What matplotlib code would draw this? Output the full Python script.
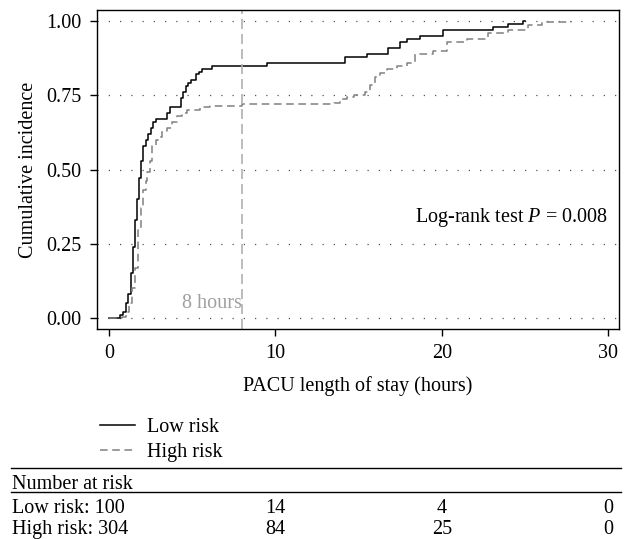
import matplotlib
matplotlib.use('Agg')
import matplotlib.pyplot as plt
from matplotlib.lines import Line2D
from matplotlib.transforms import blended_transform_factory

plt.rcParams['font.family'] = ['Liberation Serif', 'DejaVu Serif']
plt.rcParams['mathtext.fontset'] = 'custom'
plt.rcParams['mathtext.it'] = 'Liberation Serif:italic'
plt.rcParams['mathtext.rm'] = 'Liberation Serif'

# Step curves (hours, cumulative incidence)
low_x = [0, 0.66, 0.85, 1.0, 1.15, 1.3, 1.45, 1.55, 1.67, 1.8, 1.93, 2.05, 2.2, 2.35,
         2.5, 2.65, 2.8, 3.5, 3.67, 4.3, 4.45, 4.6, 4.75, 4.9, 5.2, 5.4, 5.6, 6.2,
         9.5, 14.2, 15.5, 16.75, 17.5, 17.9, 18.7, 20.05, 23.1, 24.0, 24.9, 25.0]
low_y = [0, 0.01, 0.02, 0.05, 0.08, 0.15, 0.24, 0.33, 0.40, 0.47, 0.53, 0.58, 0.60, 0.62,
         0.64, 0.66, 0.67, 0.69, 0.71, 0.74, 0.76, 0.78, 0.79, 0.80, 0.82, 0.83, 0.84, 0.85,
         0.86, 0.88, 0.89, 0.91, 0.93, 0.94, 0.95, 0.97, 0.98, 0.99, 1.00, 1.00]

high_x = [0, 0.8, 1.0, 1.2, 1.4, 1.57, 1.75, 1.9, 2.05, 2.2, 2.3, 2.45, 2.6, 2.8, 2.95,
          3.2, 3.5, 3.8, 4.1, 4.4, 4.7, 5.5, 6.1, 8.0, 13.5, 13.9, 14.3, 14.7, 15.4, 15.7,
          16.0, 16.3, 16.7, 17.3, 17.9, 18.4, 19.5, 20.3, 21.5, 22.8, 24.0, 25.2, 26.0, 27.8]
high_y = [0, 0.005, 0.02, 0.05, 0.10, 0.17, 0.30, 0.37, 0.43, 0.46, 0.49, 0.53, 0.58, 0.60,
          0.61, 0.63, 0.64, 0.66, 0.68, 0.69, 0.70, 0.71, 0.715, 0.72, 0.724, 0.737, 0.745,
          0.75, 0.76, 0.785, 0.81, 0.825, 0.84, 0.85, 0.86, 0.89, 0.90, 0.93, 0.94, 0.96,
          0.97, 0.985, 0.997, 1.0]

cutoff_hours = 8
p_value = 0.008

# Number at risk table
risk_times = [0, 10, 20, 30]
risk_low = [100, 14, 4, 0]
risk_high = [304, 84, 25, 0]

fs = 14.5

fig = plt.figure(figsize=(6.28, 5.39), dpi=100)
ax = fig.add_axes([0.1545, 0.3896, 0.8312, 0.5918])

ax.plot(low_x, low_y, drawstyle='steps-post', color='black', lw=1.1, label='Low risk')
ax.plot(high_x, high_y, drawstyle='steps-post', color='#808080', lw=1.1,
        linestyle=(0, (5, 3)), label='High risk')

ax.axvline(cutoff_hours, color='#b0b0b0', lw=1.2, linestyle=(0, (6, 3)))
ax.text(cutoff_hours - 0.02, 0.05, '8 hours', color='#a0a0a0', fontsize=fs,
        ha='right', va='center')
ax.text(30, 0.34, r'Log-rank test $P$ = ' + f'{p_value:.3f}', fontsize=fs,
        ha='right', va='center')

ax.set_xlim(-0.72, 30.66)
ax.set_ylim(-0.037, 1.037)
ax.set_xticks([0, 10, 20, 30])
ax.set_yticks([0, 0.25, 0.5, 0.75, 1.0])
ax.set_yticklabels(['0.00', '0.25', '0.50', '0.75', '1.00'])
ax.yaxis.grid(True, color='#555555', linestyle=(0, (1, 8)), lw=0.9)
ax.tick_params(labelsize=fs, length=5, width=1, direction='out', pad=6)
for s in ax.spines.values():
    s.set_linewidth(1.0)
ax.set_xlabel('PACU length of stay (hours)', fontsize=fs, labelpad=9)
ax.set_ylabel('Cumulative incidence', fontsize=fs, labelpad=6)

fig.legend(loc='upper left', bbox_to_anchor=(0.13, 0.258), frameon=False,
           fontsize=fs, handlelength=1.75, handletextpad=0.6, labelspacing=0.3)

# table below the legend
fig.add_artist(Line2D([0.0175, 0.989], [0.1317, 0.1317], color='black', lw=1.0))
fig.add_artist(Line2D([0.0175, 0.989], [0.0872, 0.0872], color='black', lw=1.0))
fig.text(0.019, 0.101, 'Number at risk', fontsize=fs, va='center')
tr = blended_transform_factory(ax.transData, fig.transFigure)
for row, name, yy in [(risk_low, 'Low risk', 0.057), (risk_high, 'High risk', 0.018)]:
    fig.text(0.019, yy, f'{name}: {row[0]}', fontsize=fs, va='center')
    for t, n in zip(risk_times[1:], row[1:]):
        ax.text(t, yy, str(n), fontsize=fs, ha='center', va='center', transform=tr)

fig.savefig('out.png', dpi=100)
